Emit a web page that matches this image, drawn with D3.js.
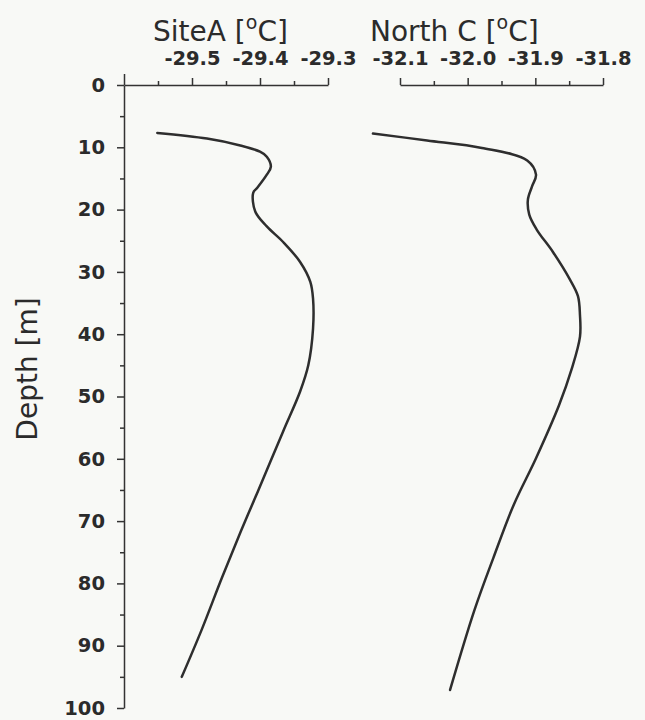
<!DOCTYPE html>
<html>
<head>
<meta charset="utf-8">
<script src="https://cdn.jsdelivr.net/npm/d3@7"></script>
<style>
  html, body { margin:0; padding:0; background:#f8f9f6; }
  svg { display:block; }
  .tick text { font-family:"DejaVu Sans", sans-serif; font-weight:bold; font-size:19.5px; fill:#2b2b2b; }
  .axis path, .axis line { stroke:#333; stroke-width:1.5; }
  .title { font-family:"DejaVu Sans", sans-serif; font-size:28px; fill:#2b2b2b; }
  .curve { fill:none; stroke:#2e2e2e; stroke-width:2.5; stroke-linejoin:round; stroke-linecap:round; }
</style>
</head>
<body>
<svg id="chart" width="645" height="720"></svg>
<script>
// depth [m] and temperature [C] read from the profiles
var depthA=[7.7,8.6,9.7,10.7,11.5,13.1,14.4,16.5,17.3,20.3,22.7,25.2,28.4,31.6,34.3,39.1,45.0,49.2,55.6,65.2,71.6,79.1,87.5,95.0];
var tempA=[-29.551,-29.478,-29.429,-29.400,-29.390,-29.384,-29.390,-29.404,-29.410,-29.407,-29.390,-29.366,-29.341,-29.326,-29.322,-29.322,-29.329,-29.341,-29.366,-29.403,-29.428,-29.456,-29.486,-29.515];
var depthN=[7.8,8.9,10.1,12.1,14.4,16.3,18.4,20.8,23.2,26.8,31.2,33.9,37.0,40.4,45.5,51.4,59.9,67.4,75.9,84.3,97.1];
var tempN=[-32.140,-32.060,-31.979,-31.912,-31.899,-31.905,-31.911,-31.909,-31.898,-31.874,-31.849,-31.837,-31.834,-31.834,-31.846,-31.865,-31.899,-31.932,-31.962,-31.990,-32.026];

var depthMajor=[0,10,20,30,40,50,60,70,80,90,100];
var depthMinor=[5,15,25,35,45,55,65,75,85,95];
var aMajor=[-29.5,-29.4,-29.3], aMinor=[-29.55,-29.45,-29.35];
var nMajor=[-32.1,-32.0,-31.9,-31.8], nMinor=[-32.05,-31.95,-31.85];

var svg=d3.select("#chart");
var y=d3.scaleLinear().domain([0,100]).range([85,708]);
var xA=d3.scaleLinear().domain([-29.6,-29.3]).range([124,328]);
var xN=d3.scaleLinear().domain([-32.1,-31.8]).range([400,603]);
var fmt=function(d){return d.toFixed(1);};

// depth axis
svg.append("g").attr("class","axis").attr("transform","translate("+xA.range()[0]+",0)")
  .call(d3.axisLeft(y).tickValues(depthMajor).tickSize(7).tickPadding(12).tickSizeOuter(0));
svg.append("g").attr("class","axis").attr("transform","translate("+xA.range()[0]+",0)")
  .call(d3.axisLeft(y).tickValues(depthMinor).tickSize(4).tickFormat(""))
  .select(".domain").remove();

// top axes
function topAxis(x, major, minor){
  svg.append("g").attr("class","axis").attr("transform","translate(0,"+y(0)+")")
    .call(d3.axisTop(x).tickValues(major).tickSize(7).tickPadding(13).tickSizeOuter(0).tickFormat(fmt));
  svg.append("g").attr("class","axis").attr("transform","translate(0,"+y(0)+")")
    .call(d3.axisTop(x).tickValues(minor).tickSize(4).tickFormat(""))
    .select(".domain").remove();
}
topAxis(xA,aMajor,aMinor);
topAxis(xN,nMajor,nMinor);
// left end of SiteA scale runs a bit above the depth axis
svg.append("g").attr("class","axis").attr("transform","translate(0,"+y(0)+")")
  .call(d3.axisTop(xA).tickValues([-29.6]).tickSize(11).tickFormat(""))
  .select(".domain").remove();

// titles
function title(x0, name){
  var t=svg.append("text").attr("class","title").attr("x",x0).attr("y",41);
  t.append("tspan").text(name+" [");
  t.append("tspan").attr("font-size","19px").attr("dy",-12).text("o");
  t.append("tspan").attr("dy",12).text("C]");
}
title(153,"SiteA");
title(370,"North C");

svg.append("text").attr("class","title")
  .attr("transform","translate(37,369) rotate(-90)")
  .attr("text-anchor","middle")
  .text("Depth [m]");

// profiles
var lineA=d3.line().x(function(d,i){return xA(tempA[i]);}).y(function(d){return y(d);}).curve(d3.curveCatmullRom.alpha(0.5));
var lineN=d3.line().x(function(d,i){return xN(tempN[i]);}).y(function(d){return y(d);}).curve(d3.curveCatmullRom.alpha(0.5));
svg.append("path").attr("class","curve").attr("d",lineA(depthA));
svg.append("path").attr("class","curve").attr("d",lineN(depthN));
</script>
</body>
</html>
